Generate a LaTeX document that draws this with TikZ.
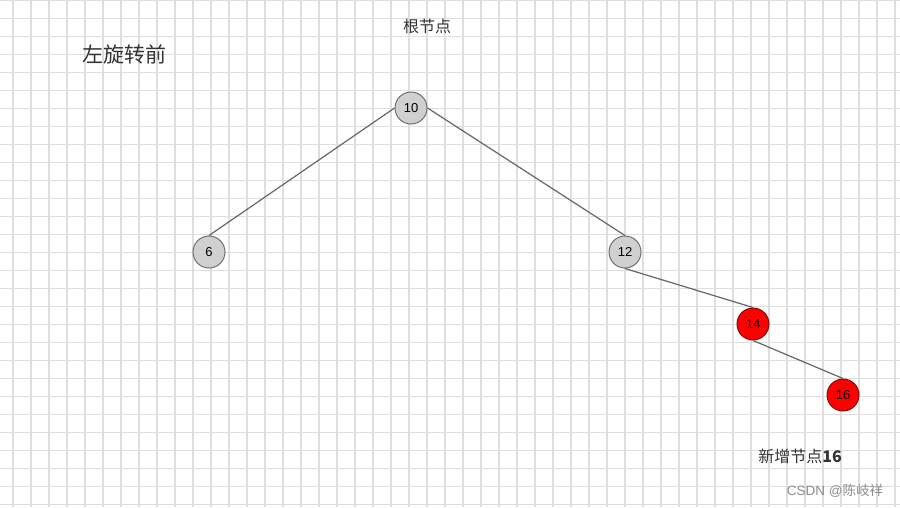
\documentclass[tikz,border=0pt]{standalone}
\usepackage{fontspec}
\setmainfont{Liberation Sans}
\newfontfamily\cjk{Noto Sans CJK SC}
\definecolor{gridc}{HTML}{DEDEDE}
\definecolor{edgec}{HTML}{666666}
\definecolor{nodefill}{HTML}{D0D0D0}
\definecolor{nodeline}{HTML}{6E6E6E}
\definecolor{redfill}{HTML}{FF0000}
\definecolor{redline}{HTML}{7A1010}
\definecolor{txt}{HTML}{333333}
\tikzset{
  gridline/.style={draw=gridc, line width=1.1pt},
  treenode/.style={circle, draw=nodeline, fill=nodefill, line width=1pt, minimum size=32pt, inner sep=0pt, font=\fontsize{13}{13}\selectfont, text=black},
  rednode/.style={treenode, draw=redline, fill=redfill},
  edge/.style={draw=edgec, line width=1.2pt},
  label/.style={inner sep=0pt, text=txt}
}
\begin{document}
\begin{tikzpicture}[x=1pt, y=-1pt]
\useasboundingbox (0,0) rectangle (900,507);
\fill[white] (0,0) rectangle (900,507);
\foreach \k in {0,...,49} { \draw[gridline] ({13+18*\k},0) -- ({13+18*\k},507); }
\foreach \k in {0,...,28} { \draw[gridline] (0,{0.5+18*\k}) -- (900,{0.5+18*\k}); }
\node[treenode] (n10) at (411,108) {10};
\node[treenode] (n6) at (209,252) {6};
\node[treenode] (n12) at (625,252) {12};
\node[rednode] (n14) at (753,324) {14};
\node[rednode] (n16) at (843,395) {16};
\draw[edge] (n10.west) -- (n6.north);
\draw[edge] (n10.east) -- (n12.north);
\draw[edge] (n12.south) -- (n14.north);
\draw[edge] (n14.south) -- (n16.north);
\node[label, font=\cjk\fontsize{16}{16}\selectfont] (root) at (427,26) {根节点};
\node[label, font=\cjk\fontsize{21}{21}\selectfont] (title) at (124,54) {左旋转前};
\node[label, font=\cjk\fontsize{16}{16}\selectfont] (newn) at (800,456) {新增节点\textbf{16}};
\node[label, text=black!45, font=\fontsize{13.5}{13.5}\selectfont] (csdn) at (835,491) {CSDN @{\cjk 陈岐祥}};
\end{tikzpicture}
\end{document}
